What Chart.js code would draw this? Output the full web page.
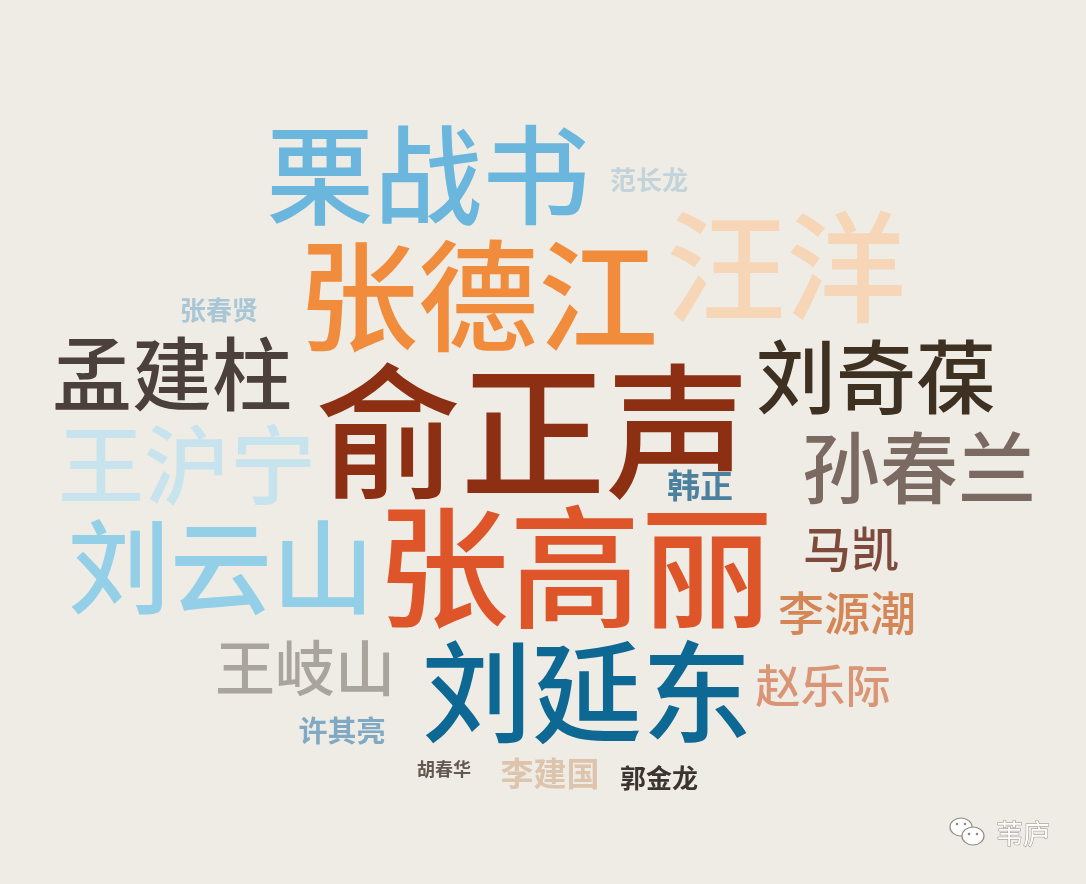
<!DOCTYPE html>
<html>
<head>
<meta charset="utf-8">
<script src="https://cdn.jsdelivr.net/npm/chart.js@4"></script>
<style>
  html, body { margin: 0; padding: 0; background: #efece6; }
  #wrap { width: 1086px; height: 884px; }
</style>
</head>
<body>
<div id="wrap"><canvas id="nuvem" width="1086" height="884"></canvas></div>
<script>
// palavras da nuvem
const nomes = ['栗战书', '范长龙', '汪洋', '张德江', '张春贤', '孟建柱', '刘奇葆', '俞正声',
  '王沪宁', '韩正', '孙春兰', '刘云山', '张高丽', '马凯', '李源潮', '王岐山',
  '刘延东', '赵乐际', '许其亮', '胡春华', '李建国', '郭金龙'];
// peso de cada nome (tamanho relativo)
const pesos = [108, 26, 120, 120, 26, 80, 80, 145, 86, 33, 78, 102, 132, 48, 46, 60, 110, 45, 29, 18, 33, 26];
// posicao de cada nome na nuvem
const posX = [428, 649, 786, 478, 219, 172, 876, 533, 187, 700, 919, 221, 575, 851, 847, 305, 587, 823, 342, 444, 550, 659];
const posY = [175, 180, 267, 296, 310, 374, 377, 432, 465, 485, 468, 567, 567, 549, 613, 668, 692, 686, 731, 769, 773, 778];
const cores = ['#6bb6dd', '#c3d3da', '#f6d6b6', '#f08c3b', '#a8c6d5', '#4b403b', '#3e3122', '#8c2f12',
  '#c6e3ee', '#4b809e', '#7a6a62', '#93d0e7', '#dd5529', '#7e4a3c', '#d48657', '#a9a49c',
  '#0d6893', '#da9576', '#80aac3', '#655850', '#ddc4ad', '#3b3431'];

const fonte = '"Noto Sans CJK SC", "Noto Sans CJK JP", sans-serif';

const pluginPalavras = {
  id: 'palavras',
  afterDatasetsDraw(chart) {
    const ctx = chart.ctx;
    const sx = chart.scales.x;
    const sy = chart.scales.y;
    ctx.save();
    ctx.textAlign = 'center';
    ctx.textBaseline = 'middle';
    chart.data.datasets[0].data.forEach((p, i) => {
      // so os nomes bem pequenos ficam em negrito
      const peso = p.peso <= 33 ? '700 ' : '500 ';
      ctx.font = peso + p.peso + 'px ' + fonte;
      ctx.fillStyle = cores[i];
      ctx.fillText(p.nome, sx.getPixelForValue(p.x), sy.getPixelForValue(p.y));
    });
    ctx.restore();
  }
};

const pluginMarca = {
  id: 'marca',
  afterDraw(chart) {
    const ctx = chart.ctx;
    ctx.save();
    ctx.fillStyle = '#ffffff';
    ctx.strokeStyle = '#8f8a84';
    ctx.lineWidth = 1.2;
    // icone
    ctx.beginPath();
    ctx.ellipse(961, 827, 11, 9, 0, 0, Math.PI * 2);
    ctx.fill(); ctx.stroke();
    ctx.beginPath();
    ctx.ellipse(973, 836, 11, 9, 0, 0, Math.PI * 2);
    ctx.fill(); ctx.stroke();
    ctx.fillStyle = '#8f8a84';
    [[957, 824], [965, 824], [969, 834], [977, 834]].forEach(([a, b]) => {
      ctx.beginPath(); ctx.arc(a, b, 1.3, 0, Math.PI * 2); ctx.fill();
    });
    ctx.font = '400 27px ' + fonte;
    ctx.textAlign = 'left';
    ctx.textBaseline = 'middle';
    ctx.fillStyle = '#ffffff';
    ctx.lineWidth = 1;
    ctx.strokeText('苇庐', 996, 834);
    ctx.fillText('苇庐', 996, 834);
    ctx.restore();
  }
};

let config = {
  type: 'scatter',
  data: {
    datasets: [{
      data: nomes.map((nome, i) => ({ x: posX[i], y: posY[i], nome: nome, peso: pesos[i] })),
      pointRadius: 0,
      pointHoverRadius: 0
    }]
  },
  options: {
    responsive: false,
    animation: false,
    layout: { padding: 0 },
    plugins: {
      legend: { display: false },
      tooltip: { enabled: false }
    },
    scales: {
      x: { type: 'linear', min: 0, max: 1086, display: false },
      y: { type: 'linear', min: 0, max: 884, reverse: true, display: false }
    }
  },
  plugins: [pluginPalavras, pluginMarca]
};

let ctx = document.getElementById('nuvem').getContext('2d');
window.nuvem = new Chart(ctx, config);
</script>
</body>
</html>
